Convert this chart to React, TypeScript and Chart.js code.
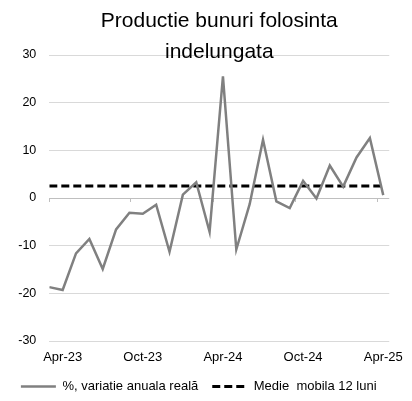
import React, { useEffect, useRef } from "react";
import { Chart, registerables } from "chart.js";

Chart.register(...registerables);

const months = [
  "Mar-23", "Apr-23", "May-23", "Jun-23", "Jul-23", "Aug-23", "Sep-23", "Oct-23",
  "Nov-23", "Dec-23", "Jan-24", "Feb-24", "Mar-24", "Apr-24", "May-24", "Jun-24",
  "Jul-24", "Aug-24", "Sep-24", "Oct-24", "Nov-24", "Dec-24", "Jan-25", "Feb-25",
  "Mar-25", "Apr-25",
];

const annualChange = [
  -18.7, -19.3, -11.6, -8.6, -14.9, -6.6, -3.1, -3.3, -1.4, -11.3, 0.7, 3.3, -7.1,
  25.5, -10.8, -1.3, 12.2, -0.7, -2.1, 3.6, -0.1, 6.8, 2.4, 8.5, 12.6, 0.6,
];

const movingAverage = [
  2.5, 2.5, 2.5, 2.5, 2.5, 2.5, 2.5, 2.5, 2.5, 2.5, 2.5, 2.5, 2.5,
  2.5, 2.5, 2.5, 2.5, 2.5, 2.5, 2.5, 2.5, 2.5, 2.5, 2.5, 2.5, 2.5,
];

const labelledMonths = ["Apr-23", "Oct-23", "Apr-24", "Oct-24", "Apr-25"];
const axisTickMarks = [0, 6.07, 12.24, 18.4, 24.5];

const seriesNames = ["%, variatie anuala reală", "Medie  mobila 12 luni"];
const titleLines = ["Productie bunuri folosinta", "indelungata"];

const FONT = "'Liberation Sans', Arial, sans-serif";

export default function App() {
  const ref = useRef<HTMLCanvasElement | null>(null);

  useEffect(() => {
    if (!ref.current) return;

    const titlePlugin = {
      id: "twoLineTitle",
      afterDraw(chart: any) {
        const { ctx, chartArea } = chart;
        ctx.save();
        ctx.fillStyle = "#000";
        ctx.font = `21px ${FONT}`;
        ctx.textAlign = "center";
        ctx.textBaseline = "middle";
        const cx = (chartArea.left + chartArea.right) / 2;
        ctx.fillText(titleLines[0], cx, 21);
        ctx.fillText(titleLines[1], cx, 52);
        ctx.restore();
      },
    };

    const tickMarkPlugin = {
      id: "axisTickMarks",
      beforeDatasetsDraw(chart: any) {
        const { ctx } = chart;
        const xs = chart.scales.x;
        const ys = chart.scales.y;
        const y0 = ys.getPixelForValue(0);
        ctx.save();
        ctx.strokeStyle = "#bfbfbf";
        ctx.lineWidth = 1;
        axisTickMarks.forEach((v) => {
          const x = Math.round(xs.getPixelForValue(v)) + 0.5;
          ctx.beginPath();
          ctx.moveTo(x, y0);
          ctx.lineTo(x, y0 + 4);
          ctx.stroke();
        });
        ctx.restore();
      },
    };

    const defaultGenerate = (Chart as any).defaults.plugins.legend.labels.generateLabels;

    const chart = new Chart(ref.current, {
      type: "line",
      data: {
        datasets: [
          {
            label: seriesNames[0],
            data: annualChange.map((v, i) => ({ x: i, y: v })),
            borderColor: "#808080",
            backgroundColor: "#808080",
            borderWidth: 2.5,
            pointRadius: 0,
            tension: 0,
            fill: false,
          },
          {
            label: seriesNames[1],
            data: movingAverage.map((v, i) => ({ x: i, y: v })),
            borderColor: "#000",
            backgroundColor: "#000",
            borderWidth: 3,
            borderDash: [8, 4],
            pointRadius: 0,
            tension: 0,
            fill: false,
          },
        ],
      },
      options: {
        responsive: false,
        maintainAspectRatio: false,
        animation: false,
        devicePixelRatio: 1,
        layout: { padding: { top: 55, right: 14.5, bottom: 0, left: 0 } },
        plugins: {
          title: { display: false },
          tooltip: { enabled: false },
          legend: {
            display: true,
            position: "bottom",
            maxHeight: 35,
            labels: {
              usePointStyle: true,
              pointStyle: "line",
              pointStyleWidth: 35,
              color: "#000",
              padding: 14,
              font: { family: FONT, size: 13 },
              generateLabels: (ch: any) =>
                defaultGenerate(ch).map((item: any) => {
                  const ds = ch.data.datasets[item.datasetIndex];
                  return {
                    ...item,
                    pointStyle: "line",
                    lineDash: ds.borderDash || [],
                    lineWidth: ds.borderWidth,
                    strokeStyle: ds.borderColor,
                  };
                }),
            },
          },
        },
        scales: {
          x: {
            type: "linear",
            min: 0,
            max: 25.45,
            grid: { display: false, drawTicks: false },
            border: { display: false },
            afterBuildTicks: (scale: any) => {
              scale.ticks = labelledMonths.map((m) => ({ value: months.indexOf(m) }));
            },
            afterFit: (scale: any) => {
              scale.height = 25;
            },
            ticks: {
              autoSkip: false,
              maxRotation: 0,
              padding: 9,
              color: "#000",
              font: { family: FONT, size: 13 },
              callback: (v: any) => months[Math.round(Number(v))],
            },
          },
          y: {
            min: -30,
            max: 30,
            afterFit: (scale: any) => {
              scale.width = 49.3;
            },
            grid: {
              drawTicks: false,
              color: (c: any) => (c.tick && c.tick.value === 0 ? "#bfbfbf" : "#d9d9d9"),
              borderDash: (c: any) => (c.tick && c.tick.value === 0 ? [] : [2, 2]),
              lineWidth: 1,
            } as any,
            border: { display: false },
            ticks: {
              stepSize: 10,
              padding: 13,
              color: "#000",
              font: { family: FONT, size: 12.5 },
            },
          },
        },
      },
      plugins: [titlePlugin, tickMarkPlugin],
    } as any);

    return () => chart.destroy();
  }, []);

  return (
    <div style={{ position: "fixed", left: 0, top: 0, width: 412, height: 401, background: "#fff" }}>
      <canvas ref={ref} width={412} height={401} style={{ width: 412, height: 401 }} />
    </div>
  );
}
